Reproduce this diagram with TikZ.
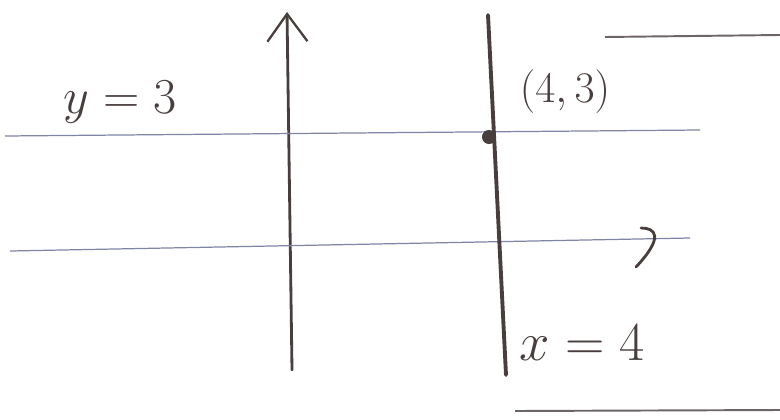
\documentclass[tikz,border=0pt]{standalone}
\usepackage{xcolor}
\usepackage{tikz}
\usetikzlibrary{arrows.meta}
\definecolor{pen}{RGB}{72,62,62}
\definecolor{faint}{RGB}{128,132,165}

\begin{document}
\begin{tikzpicture}[
  x=0.02cm, y=-0.02cm,
  axis/.style={pen, line width=1.6pt, line cap=round,
               -{Straight Barb[length=0.55cm, width=0.8cm, line width=1.3pt]}},
  guide/.style={faint, line width=0.7pt},
  vline/.style={pen, line width=2.2pt, line cap=round},
  hand/.style={pen, line width=1.6pt, line cap=round},
  edge/.style={pen!80, line width=1.1pt},
  lbl/.style={pen, inner sep=0pt, font=\fontsize{24}{28}\selectfont},
  dot/.style={circle, fill=pen, inner sep=0pt, minimum size=8pt}
]
\useasboundingbox (0,0) rectangle (780,419);

% coordinates of the sketch
\coordinate (ybot) at (292,370);
\coordinate (ytop) at (287,12);
\coordinate (xl)   at (10,251);
\coordinate (xr)   at (690,238);
\coordinate (gl)   at (5,136);
\coordinate (gr)   at (700,130);
\coordinate (vt)   at (488,15);
\coordinate (vb)   at (506,375);

% axes and the two lines
\draw[axis]  (ybot) -- (ytop);
\draw[guide] (xl) -- (xr);
\draw[hand]  (641,228) .. controls (655,228) and (665,236) .. (636,267);
\draw[guide] (gl) -- (gr);
\draw[vline] (vt) -- (vb);

% the point and labels
\node[dot] (pt) at (489,137) {};
\node[lbl] (ptlbl) at (565,92) {$(4,3)$};
\node[lbl, scale=1.15] (ylbl) at (120,102) {$y=3$};
\node[lbl, scale=1.25] (xlbl) at (582,343) {$x=4$};

% page edges
\draw[edge] (605,37) -- (780,35);
\draw[edge] (515,411) -- (780,410);
\end{tikzpicture}
\end{document}
